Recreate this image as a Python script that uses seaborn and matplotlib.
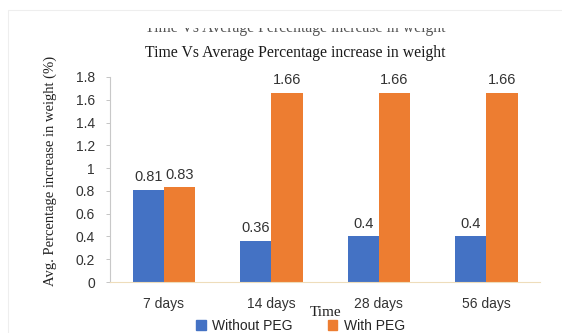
import matplotlib
matplotlib.use("Agg")
import matplotlib.pyplot as plt
import seaborn as sns
import pandas as pd
from matplotlib.patches import Rectangle
from matplotlib.transforms import Bbox

# Data
days = ["7 days", "14 days", "28 days", "56 days"]
without_peg = [0.81, 0.36, 0.4, 0.4]
with_peg = [0.83, 1.66, 1.66, 1.66]
series_names = ["Without PEG", "With PEG"]
y_ticks = [0, 0.2, 0.4, 0.6, 0.8, 1.0, 1.2, 1.4, 1.6, 1.8]
y_tick_labels = ["0", "0.2", "0.4", "0.6", "0.8", "1", "1.2", "1.4", "1.6", "1.8"]
title = "Time Vs Average Percentage increase in weight"

df = pd.DataFrame({
    "Time": days * 2,
    "value": without_peg + with_peg,
    "series": [series_names[0]] * len(days) + [series_names[1]] * len(days),
})

sns.set_theme(style="white")
plt.rcParams["font.family"] = ["Liberation Sans", "DejaVu Sans"]
serif = ["Liberation Serif", "DejaVu Serif"]

colors = {"Without PEG": "#4472C4", "With PEG": "#ED7D31"}

fig = plt.figure(figsize=(5.62, 3.33), dpi=100)
fig.patch.set_facecolor("white")
ax = fig.add_axes([0.196, 0.153, 0.765, 0.616])

sns.barplot(data=df, x="Time", y="value", hue="series", palette=colors,
            width=0.58, saturation=1, linewidth=0, ax=ax, legend=False)

for cont in ax.containers:
    labels = [f"{v:g}" for v in cont.datavalues]
    ax.bar_label(cont, labels=labels, padding=4, fontsize=10.5, color="#333333")

ax.set_ylim(0, 1.8)
ax.set_yticks(y_ticks)
ax.set_yticklabels(y_tick_labels, fontsize=10, color="#333333")
ax.tick_params(axis="y", length=3, width=0.6, color="#BBBBBB", pad=8, left=True)
ax.tick_params(axis="x", length=0, labelsize=10, labelcolor="#333333", pad=11)

for side in ["top", "right"]:
    ax.spines[side].set_visible(False)
ax.spines["left"].set_color("#C8C8C8")
ax.spines["left"].set_linewidth(0.8)
ax.spines["bottom"].set_color("#EEDDBB")
ax.spines["bottom"].set_linewidth(0.8)

ax.set_xlabel("Time", family=serif, fontsize=11, color="#222222", labelpad=-4)
ax.set_ylabel("Avg. Percentage increase in weight (%)", family=serif,
              fontsize=10.5, color="#222222")
ax.yaxis.set_label_coords(-0.124, 0.54)

fig.text(0.525, 0.84, title, ha="center", va="center", family=serif,
         fontsize=11.3, color="#1a1a1a")

# faded repeat of the heading, only its lower edge showing
ghost = fig.text(0.525, 1 - 32 / 333, title, ha="center", va="baseline",
                 family=serif, fontsize=11.3, color="#555555")
ghost.set_clip_on(True)
ghost.set_clip_box(Bbox.from_extents(0, 0, 562, 333 - 28))

# faint outer frame
fig.add_artist(Rectangle((0.014, -0.1), 1.2, 1.07, transform=fig.transFigure,
                         fill=False, edgecolor="#EEEEEE", linewidth=0.8))

handles = [Rectangle((0, 0), 1, 1, color=colors[n]) for n in series_names]
fig.legend(handles, series_names, loc="center", bbox_to_anchor=(0.535, 0.022),
           ncol=2, frameon=False, fontsize=10, handlelength=0.7, handleheight=0.7,
           columnspacing=2.5, handletextpad=0.5)

fig.savefig("out.png", dpi=100)
